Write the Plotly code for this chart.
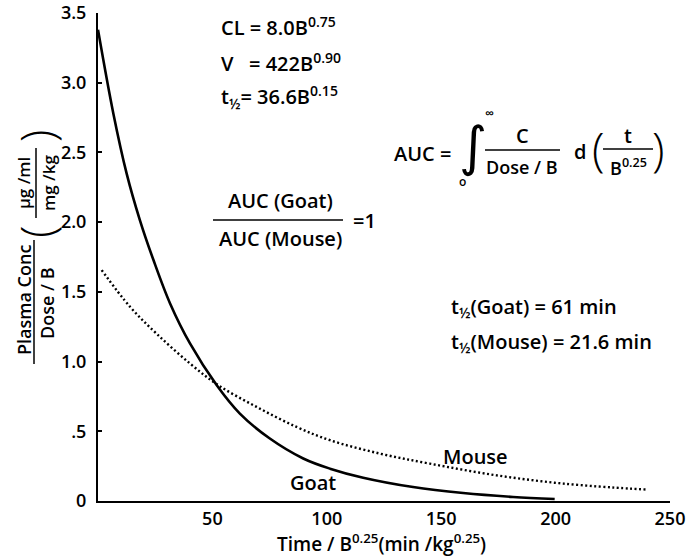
import plotly.graph_objects as go

# Curves (time / B^0.25 vs normalised plasma conc)
goat_t = [0, 6.7, 12.5, 18.3, 24.2, 31.5, 40.2, 51.9, 62, 75.1, 89.7, 101.4, 115.9, 137.7, 159.6, 181.4, 199.6]
goat_c = [3.38, 2.78, 2.35, 2.015, 1.73, 1.417, 1.13, 0.83, 0.627, 0.448, 0.305, 0.232, 0.167, 0.10, 0.057, 0.029, 0.014]

mouse_t = [1.6, 14, 25.6, 40.2, 52.6, 69.3, 86.8, 101.4, 123.2, 145, 174.2, 203.3, 232.4, 240]
mouse_c = [1.656, 1.393, 1.20, 0.986, 0.83, 0.675, 0.531, 0.436, 0.34, 0.268, 0.184, 0.125, 0.089, 0.082]

x_ticks = [50, 100, 150, 200, 250]
y_ticks = [0, 0.5, 1.0, 1.5, 2.0, 2.5, 3.0, 3.5]
y_ticktext = ["0", ".5", "1.0", "1.5", "2.0", "2.5", "3.0", "3.5"]

W, H = 687, 560
L, R, T, B = 98, 17, 13, 59
PW, PH = W - L - R, H - T - B
FONT = "'Open Sans', Lato, sans-serif"


def fx(px):
    return (px - L) / PW


def fy(py):
    return (H - B - py) / PH


def note(text, px, py, size=20, anchor="center", angle=0, weight=600, family=FONT):
    return dict(
        text=text, xref="paper", yref="paper", x=fx(px), y=fy(py),
        xanchor=anchor, yanchor="middle", showarrow=False, textangle=angle,
        borderpad=0,
        font=dict(size=size, color="black", family=family, weight=weight),
    )


def hline(x0, x1, y):
    return dict(type="line", xref="paper", yref="paper",
                x0=fx(x0), x1=fx(x1), y0=fy(y), y1=fy(y),
                line=dict(color="black", width=1.5))


def vline(x, y0, y1):
    return dict(type="line", xref="paper", yref="paper",
                x0=fx(x), x1=fx(x), y0=fy(y0), y1=fy(y1),
                line=dict(color="black", width=1.5))


fig = go.Figure()
fig.add_trace(go.Scatter(
    x=goat_t, y=goat_c, mode="lines", line_shape="spline",
    line=dict(color="black", width=2.6), showlegend=False,
))
fig.add_trace(go.Scatter(
    x=mouse_t, y=mouse_c, mode="lines", line_shape="spline",
    line=dict(color="black", width=2.4, dash="2px,2.5px"), showlegend=False,
))

nb = "\u00a0"
annotations = [
    # curve labels
    dict(text="Goat", x=94, y=0.13, xref="x", yref="y", showarrow=False,
         font=dict(size=20, color="black", family=FONT, weight=600)),
    dict(text="Mouse", x=165, y=0.316, xref="x", yref="y", showarrow=False,
         font=dict(size=20, color="black", family=FONT, weight=600)),
    # allometric equations
    note("CL = 8.0B<sup>0.75</sup>", 220, 27, anchor="left"),
    note(f"V{nb}{nb}{nb}= 422B<sup>0.90</sup>", 220, 63, anchor="left"),
    note("t<sub>½</sub>= 36.6B<sup>0.15</sup>", 220, 97, anchor="left"),
    # AUC definition
    note("AUC =", 393, 153, anchor="left"),
    note("∫", 473, 146, size=54, weight=400, family="'DejaVu Sans'"),
    note("∞", 489, 113, size=13),
    note("o", 462, 181, size=12),
    note("C", 522, 135),
    note("Dose / B", 522, 167, size=18),
    note("d", 580, 151),
    note("(", 598, 148, size=46, weight=300),
    note("t", 628, 135),
    note("B<sup>0.25</sup>", 628, 167, size=18),
    note(")", 658, 148, size=46, weight=300),
    # AUC ratio
    note("AUC (Goat)", 280, 200),
    note("AUC (Mouse)", 280, 238),
    note("=1", 364, 220),
    # half lives
    note("t<sub>½</sub>(Goat) = 61 min", 450, 307, anchor="left"),
    note("t<sub>½</sub>(Mouse) = 21.6 min", 450, 342, anchor="left"),
    # y-axis title
    note("Plasma Conc", 24, 300, size=18, angle=-90),
    note("Dose / B", 47, 303, size=18, angle=-90),
    note("µg /ml", 23, 183, size=17, angle=-90),
    note("mg /kg", 48, 183, size=17, angle=-90),
    note("(", 36, 232, size=46, angle=-90, weight=300),
    note(")", 36, 136, size=46, angle=-90, weight=300),
    # x-axis title
    note("Time / B<sup>0.25</sup>(min /kg<sup>0.25</sup>)", 381, 543, size=19),
]

shapes = [
    hline(485, 560, 150),
    hline(603, 653, 149),
    hline(213, 343, 220),
    vline(34, 240, 364),
    vline(36, 148, 218),
]

fig.update_layout(
    width=W, height=H,
    margin=dict(l=L, r=R, t=T, b=B),
    plot_bgcolor="white", paper_bgcolor="white",
    font=dict(family=FONT, size=16, color="black"),
    annotations=annotations,
    shapes=shapes,
)
fig.update_xaxes(
    range=[0, 250], tickvals=x_ticks, ticks="", showgrid=False, zeroline=False,
    showline=True, linecolor="black", linewidth=2, automargin=False,
    tickfont=dict(size=18, weight=600), ticklabelstandoff=0,
)
fig.update_yaxes(
    range=[0, 3.5], tickvals=y_ticks, ticktext=y_ticktext,
    ticks="inside", ticklen=4, tickwidth=1.5, tickcolor="black",
    showgrid=False, zeroline=False, automargin=False,
    showline=True, linecolor="black", linewidth=2,
    tickfont=dict(size=18, weight=600), ticklabelstandoff=6,
)

# page body has a default margin; drop it so the figure sits at the corner
fig.write_html(
    "out.html",
    config={"displayModeBar": False},
    post_script="document.body.style.margin='0';",
)
